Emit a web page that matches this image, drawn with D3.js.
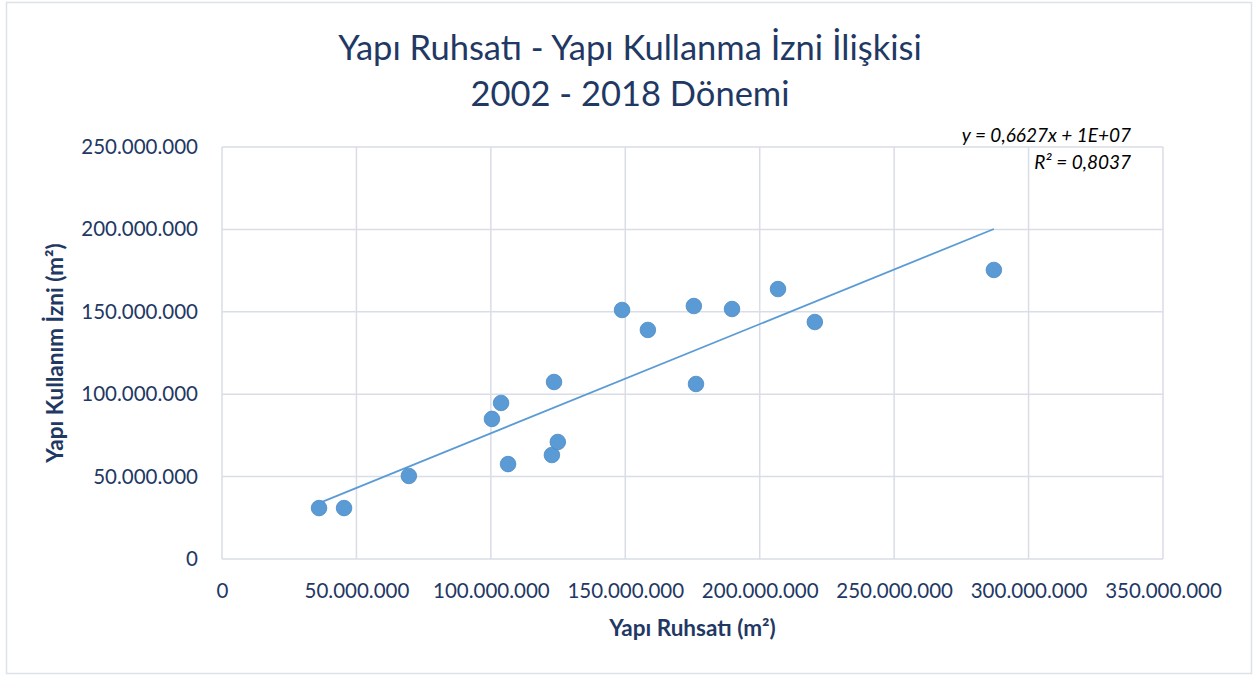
<!DOCTYPE html>
<html>
<head>
<meta charset="utf-8">
<script src="https://cdn.jsdelivr.net/npm/d3@7"></script>
<style>
  body { margin: 0; background: #fff; }
  text { font-family: Lato, "Open Sans", sans-serif; }
</style>
</head>
<body>
<div id="chart"></div>
<script>
let w = 1253;
let h = 675;
let margin = {top: 147, right: 90, bottom: 116, left: 222};

// yapi ruhsati (x) vs yapi kullanma izni (y), m2, 2002-2018
let ruhsat = [36.1e6, 45.4e6, 69.5e6, 100.4e6, 103.8e6, 106.4e6, 122.7e6, 124.9e6, 123.5e6,
              148.8e6, 158.4e6, 175.5e6, 176.3e6, 189.7e6, 206.8e6, 220.5e6, 287.1e6];
let kullanma = [30.9e6, 30.9e6, 50.4e6, 85.0e6, 94.7e6, 57.6e6, 63.1e6, 71.0e6, 107.4e6,
                151.1e6, 139.0e6, 153.5e6, 106.2e6, 151.7e6, 163.8e6, 143.8e6, 175.4e6];
let xTicks = [0, 50e6, 100e6, 150e6, 200e6, 250e6, 300e6, 350e6];
let yTicks = [0, 50e6, 100e6, 150e6, 200e6, 250e6];
let trendSlope = 0.6627;
let trendIntercept = 1e7;
let titleLines = ["Yapı Ruhsatı - Yapı Kullanma İzni İlişkisi", "2002 - 2018 Dönemi"];
let eqLines = ["y = 0,6627x + 1E+07", "R² = 0,8037"];

let navy = "#1f3864";
let grid = "#d9dde6";
let dotColor = "#5b9bd5";

let data = ruhsat.map((d, i) => ({x: d, y: kullanma[i]}));

let fmt = d => d === 0 ? "0" : d3.format(",")(d).replace(/,/g, ".");

let svg = d3.select("#chart").append("svg")
  .attr("width", w)
  .attr("height", h);

// outer frame
svg.append("rect")
  .attr("x", 6.5).attr("y", 2.5)
  .attr("width", 1245).attr("height", 671)
  .attr("fill", "white")
  .attr("stroke", "#dde1e8")
  .attr("stroke-width", 1.5);

let xScale = d3.scaleLinear().domain([0, 350e6]).range([margin.left, w - margin.right]);
let yScale = d3.scaleLinear().domain([0, 250e6]).range([h - margin.bottom, margin.top]);

// gridlines
svg.append("g").selectAll("line").data(yTicks).enter().append("line")
  .attr("x1", xScale(0)).attr("x2", xScale(350e6))
  .attr("y1", d => yScale(d)).attr("y2", d => yScale(d))
  .attr("stroke", grid).attr("stroke-width", 1.5);
svg.append("g").selectAll("line").data(xTicks).enter().append("line")
  .attr("x1", d => xScale(d)).attr("x2", d => xScale(d))
  .attr("y1", yScale(0)).attr("y2", yScale(250e6))
  .attr("stroke", grid).attr("stroke-width", 1.5);

// axes (labels only)
let xAxis = d3.axisBottom(xScale).tickValues(xTicks).tickFormat(fmt).tickSize(0).tickPadding(24);
let xg = svg.append("g")
  .attr("transform", "translate(0," + yScale(0) + ")")
  .call(xAxis);
let yAxis = d3.axisLeft(yScale).tickValues(yTicks).tickFormat(fmt).tickSize(0).tickPadding(24);
let yg = svg.append("g")
  .attr("transform", "translate(" + xScale(0) + ",0)")
  .call(yAxis);
[xg, yg].forEach(g => {
  g.select(".domain").remove();
  g.selectAll("text")
    .attr("fill", navy)
    .style("font-size", "20.5px")
    .style("font-family", "Lato, sans-serif");
});

// trend line
let xMin = d3.min(ruhsat), xMax = d3.max(ruhsat);
svg.append("line")
  .attr("x1", xScale(xMin)).attr("y1", yScale(trendSlope * xMin + trendIntercept))
  .attr("x2", xScale(xMax)).attr("y2", yScale(trendSlope * xMax + trendIntercept))
  .attr("stroke", dotColor).attr("stroke-width", 1.8);

// points
svg.append("g").selectAll("circle").data(data).enter().append("circle")
  .attr("cx", d => xScale(d.x))
  .attr("cy", d => yScale(d.y))
  .attr("r", 7.8)
  .attr("fill", dotColor)
  .attr("stroke", "#4a89c4")
  .attr("stroke-width", 0.8);

// title
svg.append("g").selectAll("text").data(titleLines).enter().append("text")
  .attr("x", 630)
  .attr("y", (d, i) => 60 + i * 46)
  .attr("text-anchor", "middle")
  .attr("fill", navy)
  .style("font-size", "34.5px")
  .text(d => d);

// equation
svg.append("g").selectAll("text").data(eqLines).enter().append("text")
  .attr("x", 1131)
  .attr("y", (d, i) => 142 + i * 27)
  .attr("text-anchor", "end")
  .attr("fill", "#000")
  .style("font-size", "19px")
  .style("font-style", "italic")
  .text(d => d);

// axis titles
svg.append("text")
  .attr("x", xScale(175e6))
  .attr("y", 636)
  .attr("text-anchor", "middle")
  .attr("fill", navy)
  .style("font-size", "22.5px")
  .style("font-weight", "bold")
  .text("Yapı Ruhsatı (m²)");

svg.append("text")
  .attr("transform", "translate(63," + yScale(125e6) + ") rotate(-90)")
  .attr("text-anchor", "middle")
  .attr("fill", navy)
  .style("font-size", "22.5px")
  .style("font-weight", "bold")
  .text("Yapı Kullanım İzni (m²)");
</script>
</body>
</html>
